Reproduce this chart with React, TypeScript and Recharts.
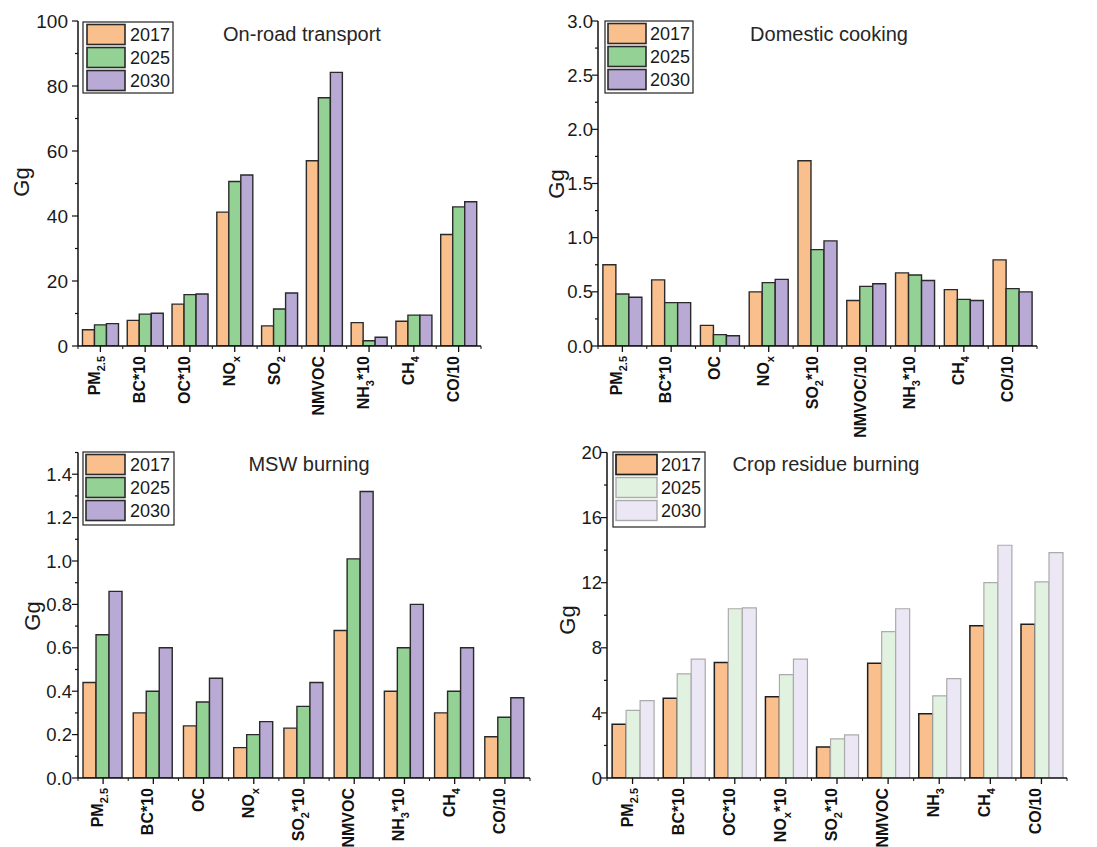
import { Bar, BarChart, XAxis, YAxis } from "recharts";

const FONT = "Arial, 'Liberation Sans', Helvetica, sans-serif";

// labels use _{...} for subscripts
const roadCategories = ["PM_{2.5}", "BC*10", "OC*10", "NO_{x}", "SO_{2}", "NMVOC", "NH_{3}*10", "CH_{4}", "CO/10"];
const road2017 = [5.0, 7.9, 12.9, 41.2, 6.2, 57.0, 7.2, 7.6, 34.3];
const road2025 = [6.5, 9.8, 15.8, 50.6, 11.4, 76.4, 1.6, 9.5, 42.8];
const road2030 = [6.9, 10.1, 16.0, 52.6, 16.3, 84.2, 2.7, 9.5, 44.4];

const cookingCategories = ["PM_{2.5}", "BC*10", "OC", "NO_{x}", "SO_{2}*10", "NMVOC/10", "NH_{3}*10", "CH_{4}", "CO/10"];
const cooking2017 = [0.75, 0.61, 0.19, 0.5, 1.71, 0.42, 0.675, 0.52, 0.795];
const cooking2025 = [0.48, 0.4, 0.105, 0.585, 0.89, 0.55, 0.655, 0.43, 0.53];
const cooking2030 = [0.45, 0.4, 0.095, 0.615, 0.97, 0.575, 0.605, 0.42, 0.5];

const mswCategories = ["PM_{2.5}", "BC*10", "OC", "NO_{x}", "SO_{2}*10", "NMVOC", "NH_{3}*10", "CH_{4}", "CO/10"];
const msw2017 = [0.44, 0.3, 0.24, 0.14, 0.23, 0.68, 0.4, 0.3, 0.19];
const msw2025 = [0.66, 0.4, 0.35, 0.2, 0.33, 1.01, 0.6, 0.4, 0.28];
const msw2030 = [0.86, 0.6, 0.46, 0.26, 0.44, 1.32, 0.8, 0.6, 0.37];

const cropCategories = ["PM_{2.5}", "BC*10", "OC*10", "NO_{x}*10", "SO_{2}*10", "NMVOC", "NH_{3}", "CH_{4}", "CO/10"];
const crop2017 = [3.3, 4.9, 7.1, 5.0, 1.9, 7.05, 3.95, 9.35, 9.45];
const crop2025 = [4.15, 6.4, 10.4, 6.35, 2.4, 9.0, 5.05, 12.0, 12.05];
const crop2030 = [4.75, 7.3, 10.45, 7.3, 2.65, 10.4, 6.1, 14.3, 13.85];

const roadTicks = [0, 20, 40, 60, 80, 100];
const roadMinor = [10, 30, 50, 70, 90];
const cookingTicks = [0, 0.5, 1.0, 1.5, 2.0, 2.5, 3.0];
const cookingMinor = [0.25, 0.75, 1.25, 1.75, 2.25, 2.75];
const mswTicks = [0, 0.2, 0.4, 0.6, 0.8, 1.0, 1.2, 1.4];
const mswMinor = [0.1, 0.3, 0.5, 0.7, 0.9, 1.1, 1.3, 1.5];
const cropTicks = [0, 4, 8, 12, 16, 20];
const cropMinor = [2, 6, 10, 14, 18];

const years = ["2017", "2025", "2030"];

interface SeriesStyle {
  fill: string;
  stroke: string;
  strokeWidth: number;
}

const SOLID_STYLES: SeriesStyle[] = [
  { fill: "#f9c08e", stroke: "#2a2a2a", strokeWidth: 1.4 },
  { fill: "#94d194", stroke: "#2a2a2a", strokeWidth: 1.4 },
  { fill: "#b9a9d5", stroke: "#2a2a2a", strokeWidth: 1.4 },
];

const CROP_STYLES: SeriesStyle[] = [
  { fill: "#f9c08e", stroke: "#1e1e1e", strokeWidth: 1.5 },
  { fill: "#e2f2e0", stroke: "#ababab", strokeWidth: 1.2 },
  { fill: "#ece7f4", stroke: "#ababab", strokeWidth: 1.2 },
];

interface PanelConfig {
  title: string;
  categories: string[];
  values: number[][];
  styles: SeriesStyle[];
  left: number;
  top: number;
  width: number;
  height: number;
  plot: { left: number; right: number; top: number; bottom: number };
  max: number;
  ticks: number[];
  minor: number[];
  digits: number;
  tickFont: number;
  tickGap: number;
  titleAt: [number, number];
  ggAt: [number, number];
  legend: { x: number; y: number; w: number; h: number; swX: number; swW: number; textX: number };
}

const panels: PanelConfig[] = [
  {
    title: "On-road transport",
    categories: roadCategories,
    values: [road2017, road2025, road2030],
    styles: SOLID_STYLES,
    left: 0, top: 0, width: 540, height: 440,
    plot: { left: 78, right: 481, top: 21, bottom: 346 },
    max: 100, ticks: roadTicks, minor: roadMinor, digits: 0, tickFont: 19, tickGap: 10,
    titleAt: [302, 34], ggAt: [21, 182],
    legend: { x: 83, y: 22, w: 90, h: 71, swX: 87, swW: 38, textX: 130 },
  },
  {
    title: "Domestic cooking",
    categories: cookingCategories,
    values: [cooking2017, cooking2025, cooking2030],
    styles: SOLID_STYLES,
    left: 540, top: 0, width: 557, height: 440,
    plot: { left: 598, right: 1037, top: 21, bottom: 346 },
    max: 3, ticks: cookingTicks, minor: cookingMinor, digits: 1, tickFont: 18.5, tickGap: 5,
    titleAt: [829, 34], ggAt: [556, 184],
    legend: { x: 605, y: 21, w: 88, h: 72, swX: 608, swW: 38, textX: 650 },
  },
  {
    title: "MSW burning",
    categories: mswCategories,
    values: [msw2017, msw2025, msw2030],
    styles: SOLID_STYLES,
    left: 0, top: 430, width: 540, height: 417,
    plot: { left: 78, right: 530, top: 452.5, bottom: 778 },
    max: 1.5, ticks: mswTicks, minor: mswMinor, digits: 1, tickFont: 18.5, tickGap: 6,
    titleAt: [309, 464], ggAt: [32, 616],
    legend: { x: 83, y: 452, w: 91, h: 73, swX: 86, swW: 39, textX: 130 },
  },
  {
    title: "Crop residue burning",
    categories: cropCategories,
    values: [crop2017, crop2025, crop2030],
    styles: CROP_STYLES,
    left: 540, top: 430, width: 557, height: 417,
    plot: { left: 607, right: 1067, top: 452.5, bottom: 778 },
    max: 20, ticks: cropTicks, minor: cropMinor, digits: 0, tickFont: 18.5, tickGap: 5,
    titleAt: [826, 464], ggAt: [567, 620],
    legend: { x: 613, y: 452, w: 92, h: 75, swX: 616, swW: 41, textX: 661 },
  },
];

function labelParts(label: string) {
  const parts = label.split(/_\{([^}]*)\}/);
  const out: JSX.Element[] = [];
  let shifted = false;
  parts.forEach((p, i) => {
    if (p === "") return;
    if (i % 2 === 1) {
      out.push(
        <tspan key={i} dy={5} fontSize={11}>
          {p}
        </tspan>
      );
      shifted = true;
    } else {
      out.push(
        <tspan key={i} dy={shifted ? -5 : 0}>
          {p}
        </tspan>
      );
      shifted = false;
    }
  });
  return out;
}

function makeXTick(bandWidth: number, count: number) {
  return function XTick(props: any) {
    const { x, y, payload } = props;
    const index = payload?.index ?? props.index ?? 0;
    const half = bandWidth / 2;
    return (
      <g>
        <line x1={x} x2={x} y1={y} y2={y + 6} stroke="#111" strokeWidth={1.3} />
        <line x1={x - half} x2={x - half} y1={y} y2={y + 3} stroke="#111" strokeWidth={1} />
        {index === count - 1 && (
          <line x1={x + half} x2={x + half} y1={y} y2={y + 3} stroke="#111" strokeWidth={1} />
        )}
        <g transform={`translate(${x},${y + 10}) rotate(-90)`}>
          <text
            x={0}
            y={0}
            dy={4.5}
            textAnchor="end"
            fontFamily={FONT}
            fontWeight="bold"
            fontSize={16}
            fill="#111"
          >
            {labelParts(String(payload.value))}
          </text>
        </g>
      </g>
    );
  };
}

function makeYTick(majors: number[], digits: number, fontSize: number, gap: number) {
  return function YTick(props: any) {
    const { x, y, payload } = props;
    const v = Number(payload.value);
    const isMajor = majors.some((m) => Math.abs(m - v) < 1e-9);
    return (
      <g>
        <line x1={x - (isMajor ? 6 : 3)} x2={x} y1={y} y2={y} stroke="#111" strokeWidth={1.2} />
        {isMajor && (
          <text
            x={x - gap}
            y={y}
            dy="0.36em"
            textAnchor="end"
            fontFamily={FONT}
            fontSize={fontSize}
            fill="#1a1a1a"
          >
            {v.toFixed(digits)}
          </text>
        )}
      </g>
    );
  };
}

function Panel({ cfg }: { cfg: PanelConfig }) {
  const data = cfg.categories.map((label, i) => ({
    label,
    y2017: cfg.values[0][i],
    y2025: cfg.values[1][i],
    y2030: cfg.values[2][i],
  }));
  const keys = ["y2017", "y2025", "y2030"];
  const { plot } = cfg;
  const bandWidth = (plot.right - plot.left) / cfg.categories.length;
  const allTicks = [...cfg.ticks, ...cfg.minor].sort((a, b) => a - b);

  return (
    <div style={{ position: "absolute", left: cfg.left, top: cfg.top }}>
      <BarChart
        width={cfg.width}
        height={cfg.height}
        data={data}
        margin={{ top: plot.top - cfg.top, right: cfg.left + cfg.width - plot.right, left: 0, bottom: 0 }}
        barGap={0}
        barCategoryGap="10%"
      >
        <XAxis
          dataKey="label"
          type="category"
          interval={0}
          height={cfg.top + cfg.height - plot.bottom}
          axisLine={{ stroke: "#111", strokeWidth: 1.5 }}
          tickLine={false}
          tickSize={0}
          tickMargin={0}
          tick={makeXTick(bandWidth, cfg.categories.length)}
        />
        <YAxis
          type="number"
          domain={[0, cfg.max]}
          allowDataOverflow
          ticks={allTicks}
          interval={0}
          width={plot.left - cfg.left}
          axisLine={{ stroke: "#111", strokeWidth: 1.5 }}
          tickLine={false}
          tickSize={0}
          tickMargin={0}
          tick={makeYTick(cfg.ticks, cfg.digits, cfg.tickFont, cfg.tickGap)}
        />
        {keys.map((k, i) => (
          <Bar
            key={k}
            dataKey={k}
            name={years[i]}
            fill={cfg.styles[i].fill}
            stroke={cfg.styles[i].stroke}
            strokeWidth={cfg.styles[i].strokeWidth}
            isAnimationActive={false}
          />
        ))}
      </BarChart>
    </div>
  );
}

function Decorations({ cfg }: { cfg: PanelConfig }) {
  const lg = cfg.legend;
  return (
    <g fontFamily={FONT}>
      <text x={cfg.titleAt[0]} y={cfg.titleAt[1]} dy="0.35em" textAnchor="middle" fontSize={20} fill="#262626">
        {cfg.title}
      </text>
      <text
        transform={`translate(${cfg.ggAt[0]},${cfg.ggAt[1]}) rotate(-90)`}
        dy="0.35em"
        textAnchor="middle"
        fontSize={22}
        fill="#1a1a1a"
      >
        Gg
      </text>
      <rect x={lg.x} y={lg.y} width={lg.w} height={lg.h} fill="#fff" stroke="#222" strokeWidth={1.2} />
      {years.map((yr, i) => {
        const rowY = lg.y + 2.5 + i * 23;
        const st = cfg.styles[i];
        return (
          <g key={yr}>
            <rect
              x={lg.swX}
              y={rowY}
              width={lg.swW}
              height={20}
              fill={st.fill}
              stroke={st.stroke}
              strokeWidth={st.strokeWidth + 0.2}
            />
            <text x={lg.textX} y={rowY + 10} dy="0.36em" fontSize={18} fill="#1a1a1a">
              {yr}
            </text>
          </g>
        );
      })}
    </g>
  );
}

export default function App() {
  return (
    <div
      style={{
        position: "absolute",
        left: 0,
        top: 0,
        width: 1097,
        height: 847,
        background: "#fff",
        overflow: "hidden",
      }}
    >
      {panels.map((p) => (
        <Panel key={p.title} cfg={p} />
      ))}
      <svg
        width={1097}
        height={847}
        style={{ position: "absolute", left: 0, top: 0, pointerEvents: "none" }}
      >
        {panels.map((p) => (
          <Decorations key={p.title} cfg={p} />
        ))}
      </svg>
    </div>
  );
}
